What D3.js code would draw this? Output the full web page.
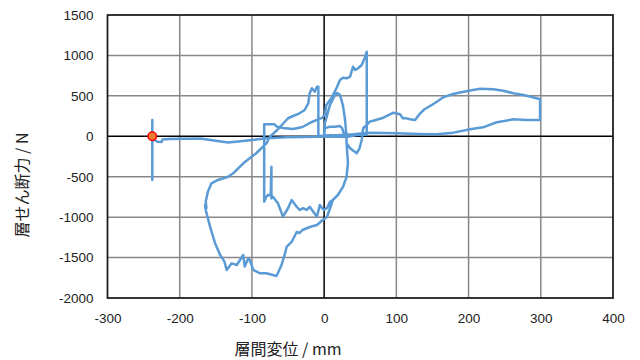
<!DOCTYPE html>
<html><head><meta charset="utf-8">
<script src="https://cdn.jsdelivr.net/npm/d3@7/dist/d3.min.js"></script>
<style>
html,body{margin:0;padding:0;background:#fff;}
svg{display:block;}
</style></head>
<body>
<svg id="chart" width="640" height="360"></svg>
<script>
// ---- data (layer drift in mm, story shear in N) ----
const dispMM = [
  0, 1, 8, 15, 22, 25, 28, 15, 0,
  1, 8, 15, 18, 22, 26, 29, 31, 31,
  33, 31, 26, 19, 12,
  8, 4, 0, -3, -6, -10, -15, -20, -24, -29, -34, -38, -45, -50, -57, -64, -71, -73, -73, -74, -78, -80, -83,
  -83,
  -81, -69, -65, -57, -43, -30, -17, -10, -3, 1, 3, 10, 17, 22, 26, 31, 36, 38, 40, 43, 47, 52, 56, 59,
  59, 45, 31, 31,
  33, 31, 26, 19, 12,
  4, -2, -10, -20, -30, -34, -38, -45, -52, -54, -59, -66,
  -80, -89, -98, -103, -105, -110, -112, -121, -128, -135, -138, -144, -151, -158, -164, -165, -163, -164, -161, -156, -147, -133, -126, -112, -94, -80,
  -75, -65, -50, -43, -34, -27, -22, -20, -17, -13, -10, -8,
  -8, 0, 20, 40, 63, 100, 132, 156, 179, 202, 220, 239, 262, 280, 299, 299,
  289, 276, 262, 248, 234, 216, 206, 197, 183, 174, 165, 156, 149, 139, 133, 126, 119, 114, 109, 105, 96, 89, 82, 75, 68, 63, 59, 54,
  52, 49, 45, 36, 31, 31,
  10, -10, -52, -80, -99, -133, -172, -215, -224, -225, -231, -234, -238, -238, -238
];
const forceN = [
  0, 99, 119, 119, 127, 99, 16, 12, 10,
  163, 386, 510, 535, 510, 386, 201, -9, -83,
  -330, -505, -627, -726, -788,
  -813, -887, -911, -887, -850, -994, -932, -871, -911, -890, -911, -871, -788, -890, -994, -829, -747, -767, -376, -730, -726, -747, -809,
  150,
  148, 148, 117, 103, 90, 115, 177, 202, 227, 264, 387, 470, 594, 697, 725, 717, 737, 799, 861, 820, 841, 882, 965, 1046,
  20, 15, -9, -83,
  -330, -505, -627, -726, -788,
  -998, -1035, -1097, -1122, -1159, -1196, -1184, -1307, -1369, -1443, -1592, -1728,
  -1694, -1694, -1653, -1530, -1509, -1612, -1468, -1592, -1571, -1653, -1551, -1468, -1323, -1118, -911, -850, -890, -809, -685, -581, -540, -500, -458, -334, -210, -87,
  -4, 78, 223, 251, 284, 325, 408, 532, 594, 552, 613, 613,
  0, 10, 15, 25, 44, 37, 28, 25, 45, 87, 111, 173, 210, 202, 202, 458,
  482, 511, 532, 564, 581, 588, 572, 556, 532, 511, 482, 427, 387, 334, 284, 201, 210, 222, 222, 272, 291, 263, 230, 210, 193, 181, 140, 99,
  -46, -148, -210, -148, -87, -9,
  -2, -5, -12, -25, -46, -77, -27, -35, -40, -70, -68, -50, -45, 200, -540
];
const markerDisp = [-238];
const markerForce = [0];
const xTicks = [-300, -200, -100, 0, 100, 200, 300, 400];
const yTicks = [-2000, -1500, -1000, -500, 0, 500, 1000, 1500];
const xTitle = "層間変位 / mm";
const yTitle = "層せん断力 / N";

// ---- drawing ----
const svg = d3.select("#chart");
const L = 107.5, R = 613, T = 15, B = 298;
const x = d3.scaleLinear().domain([-300, 400]).range([L, R]);
const y = d3.scaleLinear().domain([-2000, 1500]).range([B, T]);
const fmt = d => String(d);

// gridlines
const grid = svg.append("g");
grid.selectAll("line.vx").data(xTicks.filter(v => v !== 0 && v !== -300 && v !== 400)).join("line")
  .attr("x1", d => x(d)).attr("x2", d => x(d)).attr("y1", T).attr("y2", B)
  .attr("stroke", "#878787").attr("stroke-width", 1.5);
grid.selectAll("line.hy").data(yTicks.filter(v => v !== 0 && v !== -2000 && v !== 1500)).join("line")
  .attr("x1", L).attr("x2", R).attr("y1", d => y(d)).attr("y2", d => y(d))
  .attr("stroke", "#878787").attr("stroke-width", 1.5);

// zero axes
svg.append("line").attr("x1", x(0)).attr("x2", x(0)).attr("y1", T).attr("y2", B)
  .attr("stroke", "#000").attr("stroke-width", 1.5);
svg.append("line").attr("x1", L).attr("x2", R).attr("y1", y(0)).attr("y2", y(0))
  .attr("stroke", "#000").attr("stroke-width", 1.5);

// plot frame
svg.append("rect").attr("x", L).attr("y", T).attr("width", R - L).attr("height", B - T)
  .attr("fill", "none").attr("stroke", "#1a1a1a").attr("stroke-width", 1.75);

// axes labels via d3 axes (domain/ticks hidden)
const xAxis = svg.append("g").attr("transform", `translate(0,${B})`)
  .call(d3.axisBottom(x).tickValues(xTicks).tickSize(0).tickPadding(15).tickFormat(fmt));
const yAxis = svg.append("g").attr("transform", `translate(${L},0)`)
  .call(d3.axisLeft(y).tickValues(yTicks).tickSize(0).tickPadding(14).tickFormat(fmt));
[xAxis, yAxis].forEach(g => {
  g.select(".domain").remove();
  g.selectAll("text").attr("font-family", "'Liberation Sans', Arial, sans-serif")
    .attr("font-size", "13.5px").attr("fill", "#222");
});

// data line
const line = d3.line().x(i => x(dispMM[i])).y(i => y(forceN[i]));
svg.append("path").attr("d", line(d3.range(dispMM.length)))
  .attr("fill", "none").attr("stroke", "#5b9bd5").attr("stroke-width", 2.5)
  .attr("stroke-linejoin", "round").attr("stroke-linecap", "round");

// marker
svg.selectAll("circle.m").data(markerDisp).join("circle")
  .attr("cx", (d, i) => x(d)).attr("cy", (d, i) => y(markerForce[i])).attr("r", 4.2)
  .attr("fill", "#ed7d31").attr("stroke", "#ff0000").attr("stroke-width", 1.5);

// titles
svg.append("text").attr("x", 288).attr("y", 355)
  .attr("text-anchor", "middle")
  .attr("font-family", "'Noto Sans CJK JP', 'Liberation Sans', sans-serif")
  .attr("font-size", "16px").attr("fill", "#222").text(xTitle);
svg.append("text").attr("transform", "translate(28,185) rotate(-90)")
  .attr("text-anchor", "middle")
  .attr("font-family", "'Noto Sans CJK JP', 'Liberation Sans', sans-serif")
  .attr("font-size", "16px").attr("fill", "#222").text(yTitle);
</script>
</body></html>
